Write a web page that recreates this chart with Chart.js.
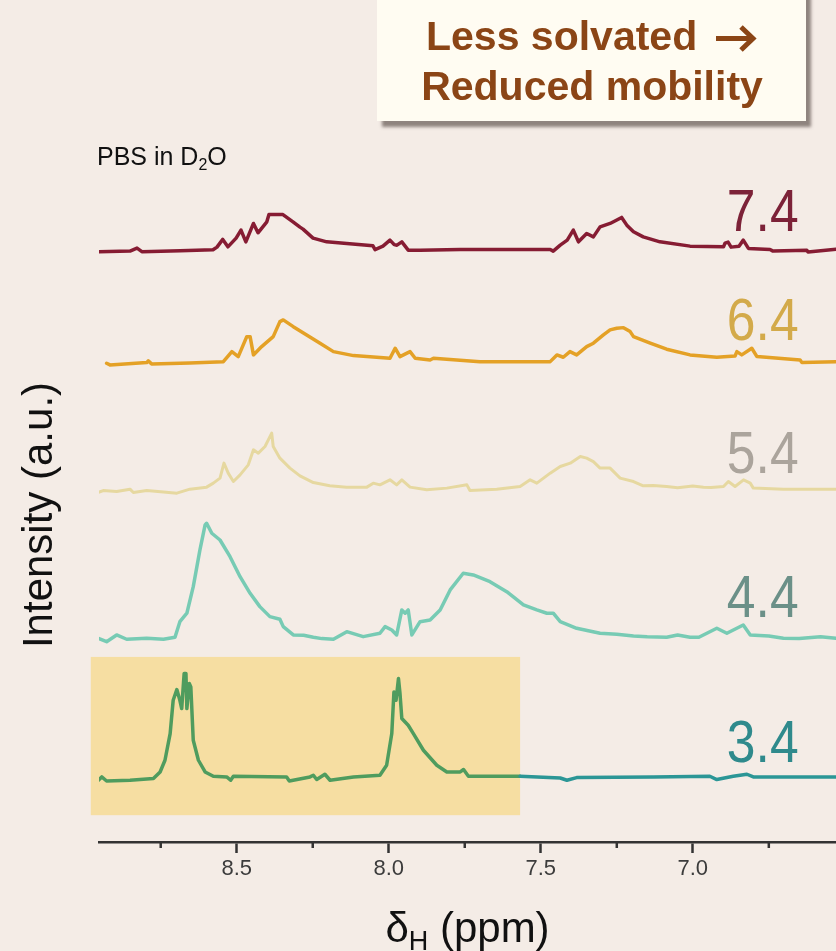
<!DOCTYPE html>
<html>
<head>
<meta charset="utf-8">
<script src="https://cdn.jsdelivr.net/npm/chart.js@4.4.1/dist/chart.umd.min.js"></script>
<style>
  html, body { margin: 0; padding: 0; background: #f4ece6; }
  canvas { display: block; }
</style>
</head>
<body>
<canvas id="nmrChart" width="836" height="951"></canvas>
<script>
// pH of each PBS buffer, top trace first
const phLabels = ['7.4', '6.4', '5.4', '4.4', '3.4'];
// stacking offset of each trace (a.u.)
const traceOffsets = [90.5, 73.1, 54.0, 31.2, 9.9];

// [chemical shift (ppm), intensity above the trace baseline (a.u.)]
const spec74 = [
  [8.953, -0.23], [8.851, -0.15], [8.828, 0.31], [8.812, -0.23], [8.686, -0.08], [8.578, 0.05],
  [8.565, 0.46], [8.546, 1.64], [8.529, 0.50], [8.502, 1.83], [8.486, 3.06], [8.470, 1.27],
  [8.445, 4.08], [8.430, 2.65], [8.401, 4.33], [8.394, 5.46], [8.348, 5.43], [8.315, 4.33],
  [8.292, 3.52], [8.282, 3.21], [8.249, 1.83], [8.204, 1.27], [8.138, 1.02], [8.052, 0.66],
  [8.045, 0.08], [8.019, 0.61], [7.996, 1.53], [7.982, 0.84], [7.973, 0.76], [7.957, 1.27],
  [7.936, 0.00], [7.897, 0.00], [7.765, 0.08], [7.699, 0.11], [7.469, 0.11], [7.459, -0.15],
  [7.436, 0.76], [7.413, 1.53], [7.393, 3.06], [7.376, 1.27], [7.349, 2.55], [7.327, 2.03],
  [7.305, 3.56], [7.272, 4.08], [7.234, 5.00], [7.217, 3.82], [7.195, 2.80], [7.163, 2.03],
  [7.108, 1.27], [7.009, 0.61], [6.899, 0.50], [6.894, 1.07], [6.884, 1.22], [6.874, 0.46],
  [6.848, 0.61], [6.834, 1.53], [6.817, 0.26], [6.746, 0.11], [6.736, -0.15], [6.625, 0.00],
  [6.621, -0.30], [6.529, 0.15]
];
const spec64 = [
  [8.928, 0.11], [8.917, -0.15], [8.796, 0.20], [8.791, 0.46], [8.780, 0.00], [8.654, 0.15],
  [8.544, 0.35], [8.516, 1.88], [8.495, 1.12], [8.467, 4.17], [8.456, 4.17], [8.445, 1.38],
  [8.418, 2.65], [8.380, 4.17], [8.358, 6.47], [8.347, 6.73], [8.314, 5.70], [8.270, 4.43],
  [8.226, 3.17], [8.182, 1.88], [8.116, 1.27], [7.996, 0.87], [7.979, 2.40], [7.963, 1.12],
  [7.930, 1.88], [7.913, 0.87], [7.864, 0.61], [7.853, 0.87], [7.700, 0.35], [7.469, 0.35],
  [7.447, 1.38], [7.426, 1.02], [7.404, 1.88], [7.382, 1.38], [7.349, 2.65], [7.327, 3.17],
  [7.294, 4.43], [7.272, 5.20], [7.250, 5.46], [7.228, 5.55], [7.206, 4.94], [7.195, 4.17],
  [7.140, 3.17], [7.086, 2.25], [7.009, 1.38], [6.921, 1.02], [6.861, 1.22], [6.855, 1.88],
  [6.839, 1.38], [6.806, 2.40], [6.789, 1.12], [6.647, 0.61], [6.641, 0.20], [6.529, 0.35]
];
const spec54 = [
  [8.961, -0.66], [8.939, -0.26], [8.895, -0.41], [8.851, -0.05], [8.840, -0.57], [8.796, -0.26],
  [8.741, -0.50], [8.697, -0.66], [8.654, -0.05], [8.599, 0.26], [8.577, 0.87], [8.555, 1.64],
  [8.542, 3.93], [8.528, 2.40], [8.511, 1.12], [8.489, 2.14], [8.462, 3.67], [8.445, 5.96],
  [8.429, 5.46], [8.407, 6.47], [8.385, 8.52], [8.380, 6.47], [8.358, 4.69], [8.325, 3.17],
  [8.292, 1.99], [8.248, 0.96], [8.194, 0.46], [8.139, 0.26], [8.072, 0.26], [8.051, 0.87],
  [8.029, 0.61], [7.996, 1.38], [7.974, 0.61], [7.957, 1.38], [7.930, 0.26], [7.875, -0.15],
  [7.809, 0.11], [7.743, 0.61], [7.733, -0.26], [7.645, -0.05], [7.568, 0.35], [7.535, 1.38],
  [7.513, 0.87], [7.469, 2.40], [7.436, 3.41], [7.403, 3.93], [7.370, 4.94], [7.349, 4.69],
  [7.327, 4.17], [7.305, 3.17], [7.272, 3.17], [7.239, 1.64], [7.195, 1.12], [7.163, 0.46],
  [7.130, 0.50], [7.086, 0.35], [7.050, 0.15], [7.000, 0.45], [6.965, 0.26], [6.940, 0.20],
  [6.899, 0.35], [6.883, 1.12], [6.861, 0.35], [6.833, 1.38], [6.811, 0.87], [6.801, 0.11],
  [6.702, -0.05], [6.529, -0.05]
];
const spec44 = [
  [8.955, -0.05], [8.928, -0.57], [8.895, 0.46], [8.862, -0.20], [8.796, -0.05], [8.741, -0.20],
  [8.703, 0.11], [8.687, 2.49], [8.664, 3.78], [8.643, 7.84], [8.621, 13.46], [8.604, 17.28],
  [8.599, 17.54], [8.582, 16.01], [8.555, 14.98], [8.522, 12.43], [8.489, 9.37], [8.456, 6.83],
  [8.424, 4.79], [8.391, 3.26], [8.358, 2.86], [8.347, 1.73], [8.314, 0.46], [8.280, 0.40],
  [8.248, 0.11], [8.220, -0.10], [8.182, -0.20], [8.138, 0.96], [8.084, 0.20], [8.029, 0.72],
  [8.012, 1.73], [7.990, 1.22], [7.974, 0.46], [7.957, 4.28], [7.946, 3.78], [7.936, 4.28],
  [7.924, 0.46], [7.897, 2.49], [7.864, 2.75], [7.831, 4.28], [7.798, 7.34], [7.755, 9.89],
  [7.722, 9.63], [7.667, 8.61], [7.612, 7.08], [7.557, 5.05], [7.513, 4.28], [7.480, 3.78],
  [7.459, 3.78], [7.436, 2.49], [7.382, 1.48], [7.305, 0.72], [7.250, 0.55], [7.195, 0.31],
  [7.150, 0.20], [7.086, 0.11], [7.050, 0.45], [7.009, 0.11], [6.980, 0.10], [6.921, 1.48],
  [6.888, 0.72], [6.834, 1.99], [6.811, 0.46], [6.750, 0.30], [6.702, -0.05], [6.650, -0.10],
  [6.580, 0.20], [6.529, -0.05]
];
const spec34 = [
  [8.955, -0.46], [8.944, 0.05], [8.928, -0.57], [8.851, -0.46], [8.774, -0.20], [8.752, 0.81],
  [8.736, 2.60], [8.719, 6.68], [8.709, 11.77], [8.697, 13.41], [8.687, 11.77], [8.681, 10.50],
  [8.673, 15.86], [8.667, 15.86], [8.664, 10.50], [8.656, 14.33], [8.651, 13.81], [8.643, 5.66],
  [8.626, 2.60], [8.604, 0.81], [8.577, 0.15], [8.533, 0.05], [8.520, -0.46], [8.511, 0.15],
  [8.336, 0.05], [8.327, -0.57], [8.259, 0.05], [8.248, 0.31], [8.237, -0.35], [8.210, 0.46],
  [8.193, -0.46], [8.116, 0.05], [8.029, 0.31], [8.007, 1.83], [7.990, 6.68], [7.983, 13.04],
  [7.976, 11.77], [7.968, 15.09], [7.963, 12.80], [7.957, 8.98], [7.936, 7.95], [7.919, 6.68],
  [7.886, 4.13], [7.842, 1.83], [7.809, 0.81], [7.765, 0.81], [7.754, 1.18], [7.738, 0.15],
  [7.645, 0.15], [7.568, 0.15], [7.436, -0.11], [7.414, -0.46], [7.382, -0.05], [7.130, 0.05],
  [6.944, 0.15], [6.921, -0.35], [6.867, 0.15], [6.822, 0.46], [6.801, 0.05], [6.529, 0.05]
];
const spectra = [spec74, spec64, spec54, spec44, spec34];

// unlabelled minor ticks between the 0.5 ppm labels
const minorTicks = [8.75, 8.25, 7.75, 7.25, 6.75];
// shaded window over the pH 3.4 trace
const highlight = { from: 8.98, to: 7.568, top: 28.3, bottom: 4.1 };

const lineColors = ['#861c33', '#e4a126', '#e6d8a0', '#77cbb4', '#2b9696'];
const lineWidths = [3.5, 3.5, 3, 3.5, 3.5];
const labelColors = ['#7c2238', '#d3aa4a', '#aba49c', '#6b9088', '#2f8a8c'];
const labelLift = [3.0, 3.6, 2.4, 3.2, 2.3];
const boxGreen = '#4f9c5e';
const FONT = "'Liberation Sans', Arial, Helvetica, sans-serif";

Chart.defaults.font.family = FONT;

const datasets = spectra.map((spec, i) => ({
  label: 'pH ' + phLabels[i],
  data: spec.map(([ppm, v]) => ({ x: ppm, y: traceOffsets[i] + v })),
  borderColor: lineColors[i],
  borderWidth: lineWidths[i],
  pointRadius: 0,
  tension: 0,
  borderJoinStyle: 'round',
  borderCapStyle: 'round',
  segment: i === 4 ? {
    borderColor: c => (c.p0.parsed.x > highlight.to ? boxGreen : lineColors[4])
  } : undefined
}));

// draws text with a lowered, smaller chunk (subscript)
function drawSub(ctx, parts, x, y) {
  let cx = x;
  parts.forEach(p => {
    ctx.font = p.font;
    ctx.fillText(p.text, cx, y + (p.drop || 0));
    cx += ctx.measureText(p.text).width;
  });
}
function measureSub(ctx, parts) {
  let w = 0;
  parts.forEach(p => { ctx.font = p.font; w += ctx.measureText(p.text).width; });
  return w;
}

const decor = {
  id: 'decor',
  beforeDraw(chart) {
    const { ctx, width, height } = chart;
    ctx.save();
    ctx.fillStyle = '#f4ece6';
    ctx.fillRect(0, 0, width, height);
    ctx.restore();
  },
  beforeDatasetsDraw(chart) {
    const { ctx, scales: { x, y } } = chart;
    const x0 = x.getPixelForValue(highlight.from);
    const x1 = x.getPixelForValue(highlight.to);
    const y0 = y.getPixelForValue(highlight.top);
    const y1 = y.getPixelForValue(highlight.bottom);
    ctx.save();
    ctx.fillStyle = '#f6dea2';
    ctx.fillRect(x0, y0, x1 - x0, y1 - y0);
    ctx.restore();
  },
  afterDraw(chart) {
    const { ctx, scales: { x, y } } = chart;
    ctx.save();

    // minor ticks
    ctx.strokeStyle = '#333';
    ctx.lineWidth = 2.5;
    minorTicks.forEach(v => {
      const px = x.getPixelForValue(v);
      ctx.beginPath();
      ctx.moveTo(px, x.top);
      ctx.lineTo(px, x.top + 6);
      ctx.stroke();
    });

    // pH labels beside each trace
    ctx.textAlign = 'center';
    ctx.textBaseline = 'alphabetic';
    phLabels.forEach((lab, i) => {
      const px = x.getPixelForValue(6.77);
      const py = y.getPixelForValue(traceOffsets[i] + labelLift[i]);
      ctx.save();
      ctx.translate(px, py);
      ctx.scale(0.86, 1);
      ctx.fillStyle = labelColors[i];
      ctx.font = '60px ' + FONT;
      ctx.fillText(lab, 0, 0);
      ctx.restore();
    });

    // call-out box
    ctx.save();
    ctx.shadowColor = 'rgba(110, 98, 92, 0.75)';
    ctx.shadowBlur = 3;
    ctx.shadowOffsetX = 5;
    ctx.shadowOffsetY = 6;
    ctx.fillStyle = '#fffcf2';
    ctx.fillRect(377, -10, 429, 131);
    ctx.restore();
    ctx.fillStyle = '#8b4516';
    ctx.strokeStyle = '#8b4516';
    ctx.font = 'bold 41px ' + FONT;
    ctx.textAlign = 'left';
    ctx.fillText('Less solvated', 426, 50);
    // heavy arrow after the first line
    ctx.lineWidth = 5;
    ctx.lineCap = 'butt';
    ctx.lineJoin = 'miter';
    ctx.beginPath();
    ctx.moveTo(716, 38.5);
    ctx.lineTo(752, 38.5);
    ctx.moveTo(741, 27);
    ctx.lineTo(753, 38.5);
    ctx.lineTo(741, 50);
    ctx.stroke();
    ctx.textAlign = 'center';
    ctx.fillText('Reduced mobility', 592, 100);

    // buffer note
    ctx.textAlign = 'left';
    ctx.fillStyle = '#111';
    drawSub(ctx, [
      { text: 'PBS in D', font: '25px ' + FONT },
      { text: '2', font: '16px ' + FONT, drop: 5 },
      { text: 'O', font: '25px ' + FONT }
    ], 97, 165);

    // x-axis title with subscript
    const xParts = [
      { text: '\u03b4', font: '42px ' + FONT },
      { text: 'H', font: '27px ' + FONT, drop: 8 },
      { text: ' (ppm)', font: '42px ' + FONT }
    ];
    const w = measureSub(ctx, xParts);
    const cx = (chart.chartArea.left + chart.chartArea.right) / 2;
    drawSub(ctx, xParts, cx - w / 2, 942);

    ctx.restore();
  }
};

new Chart(document.getElementById('nmrChart'), {
  type: 'line',
  data: { datasets },
  plugins: [decor],
  options: {
    responsive: false,
    animation: false,
    events: [],
    layout: { padding: { top: 188, left: 0, right: 0, bottom: 0 } },
    plugins: { legend: { display: false }, tooltip: { enabled: false } },
    scales: {
      x: {
        type: 'linear',
        reverse: true,
        min: 6.529,
        max: 8.953,
        afterFit: s => { s.height = 109; },
        border: { display: true, color: '#333', width: 2.5 },
        grid: { drawOnChartArea: false, tickLength: 11, tickWidth: 2.5, tickColor: '#333' },
        ticks: {
          stepSize: 0.5,
          includeBounds: false,
          padding: 3,
          color: '#3c3c3c',
          font: { size: 22 },
          callback: v => v.toFixed(1)
        }
      },
      y: {
        min: 0,
        max: 100,
        afterFit: s => { s.width = 99; },
        border: { display: false },
        grid: { display: false },
        ticks: { display: false },
        title: {
          display: true,
          text: 'Intensity (a.u.)',
          color: '#111',
          font: { size: 42 },
          padding: { top: 15, bottom: 0 }
        }
      }
    }
  }
});
</script>
</body>
</html>
